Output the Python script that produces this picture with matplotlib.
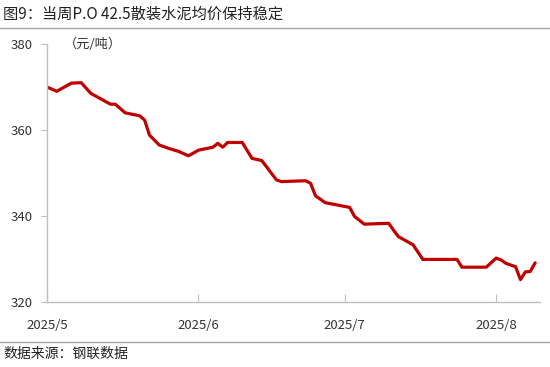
import matplotlib
matplotlib.use("Agg")
import matplotlib.pyplot as plt
import pandas as pd
from matplotlib.lines import Line2D

plt.rcParams['font.family'] = ['Noto Sans CJK SC', 'DejaVu Sans']

title = "图9：当周P.O 42.5散装水泥均价保持稳定"
source = "数据来源：钢联数据"
unit = "（元/吨）"

dates = ["2025-05-01", "2025-05-03", "2025-05-06", "2025-05-08", "2025-05-10",
         "2025-05-14", "2025-05-15", "2025-05-17", "2025-05-20", "2025-05-21",
         "2025-05-22", "2025-05-24", "2025-05-26", "2025-05-28", "2025-05-30",
         "2025-06-01", "2025-06-04", "2025-06-05", "2025-06-06", "2025-06-07",
         "2025-06-10", "2025-06-12", "2025-06-14", "2025-06-17", "2025-06-18",
         "2025-06-23", "2025-06-24", "2025-06-25", "2025-06-27", "2025-07-02",
         "2025-07-03", "2025-07-05", "2025-07-10", "2025-07-11", "2025-07-12",
         "2025-07-15", "2025-07-17", "2025-07-24", "2025-07-25", "2025-07-30",
         "2025-08-01", "2025-08-02", "2025-08-03", "2025-08-05", "2025-08-06",
         "2025-08-07", "2025-08-08", "2025-08-09"]
prices = [370.0, 369.0, 370.9, 371.0, 368.5,
          366.0, 366.0, 364.0, 363.3, 362.3,
          358.8, 356.5, 355.7, 355.0, 354.0,
          355.3, 356.0, 356.9, 356.0, 357.1,
          357.1, 353.4, 352.9, 348.4, 348.0,
          348.2, 347.6, 344.7, 343.1, 342.0,
          339.9, 338.1, 338.3, 336.7, 335.2,
          333.3, 329.9, 329.9, 328.1, 328.1,
          330.2, 329.8, 329.0, 328.2, 325.2,
          327.0, 327.1, 329.1]

tick_dates = ["2025-05-01", "2025-06-01", "2025-07-01", "2025-08-01"]
tick_labels = ["2025/5", "2025/6", "2025/7", "2025/8"]
y_ticks = [320, 340, 360, 380]

x = pd.to_datetime(dates)

fig = plt.figure(figsize=(5.5, 3.67), dpi=100)
ax = fig.add_axes([47/550, 1-302/367, (540-47)/550, (302-44)/367])

ax.plot(x, prices, color="#C00000", lw=2.3, solid_joinstyle="round", solid_capstyle="round")

ax.set_xlim(pd.Timestamp("2025-05-01"), pd.Timestamp("2025-08-10"))
ax.set_ylim(320, 380)
ax.set_yticks(y_ticks)
ax.set_xticks(pd.to_datetime(tick_dates))
ax.set_xticklabels(tick_labels)

for s in ["top", "right"]:
    ax.spines[s].set_visible(False)
for s in ["left", "bottom"]:
    ax.spines[s].set_color("#BFBFBF")
    ax.spines[s].set_linewidth(1.0)

ax.tick_params(axis="y", direction="out", length=4, color="#BFBFBF", labelsize=9.5,
               labelcolor="#333333", pad=6)
ax.tick_params(axis="x", direction="in", length=6, color="#BFBFBF", labelsize=9.5,
               labelcolor="#333333", pad=12)

ax.text(0.035, 1.0, unit, transform=ax.transAxes, fontsize=9.5, color="#333333",
        va="center", ha="left")

fig.text(3/550, 1-14/367, title, fontsize=11, color="#222222", va="center", ha="left")
fig.add_artist(Line2D([0, 1], [1-28/367, 1-28/367], transform=fig.transFigure,
                      color="#A6A6A6", lw=1.0))
fig.add_artist(Line2D([0, 1], [1-342/367, 1-342/367], transform=fig.transFigure,
                      color="#A6A6A6", lw=1.0))
fig.text(3/550, 1-354/367, source, fontsize=10, color="#222222", va="center", ha="left")

fig.savefig("out.png", dpi=100)
